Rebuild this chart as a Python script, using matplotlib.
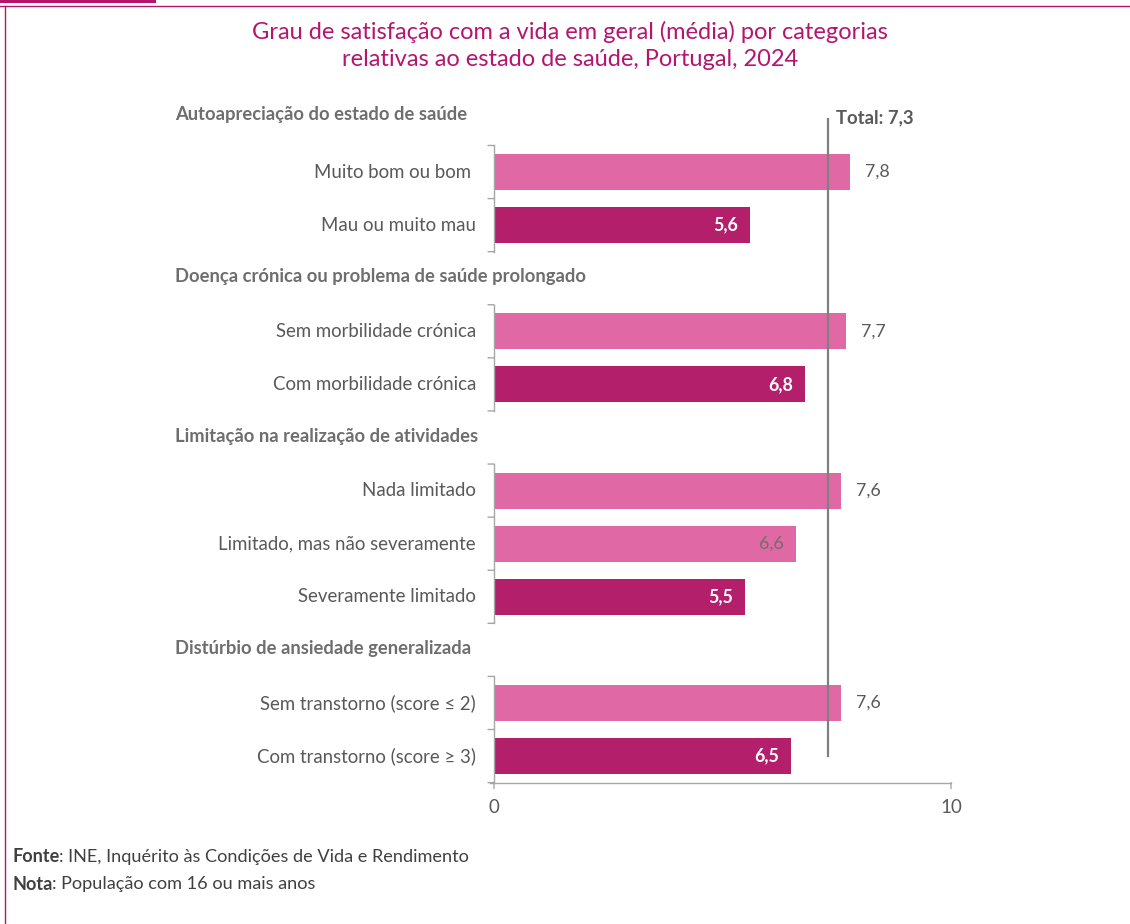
import matplotlib
matplotlib.use("Agg")
import matplotlib.pyplot as plt
from matplotlib.lines import Line2D
from matplotlib.patches import Rectangle

plt.rcParams['font.family'] = ['Lato', 'DejaVu Sans']

# data: rows top to bottom; None value = group header row
row_labels = ["Autoapreciação do estado de saúde",
              "Muito bom ou bom ", "Mau ou muito mau",
              "Doença crónica ou problema de saúde prolongado",
              "Sem morbilidade crónica", "Com morbilidade crónica",
              "Limitação na realização de atividades",
              "Nada limitado", "Limitado, mas não severamente", "Severamente limitado",
              "Distúrbio de ansiedade generalizada",
              "Sem transtorno (score ≤ 2)", "Com transtorno (score ≥ 3)"]
values = [None, 7.8, 5.6, None, 7.7, 6.8, None, 7.6, 6.6, 5.5, None, 7.6, 6.5]
dark = [False, False, True, False, False, True, False, False, False, True, False, False, True]
total = 7.3

LIGHT, DARK = "#E069A5", "#B31F6B"
MAGENTA = "#B5156F"
GRAY_TXT = "#595959"
AXIS_C = "#A6A6A6"
PT = 0.72  # points per pixel at dpi 100

W, H = 1130, 924
fig = plt.figure(figsize=(W / 100, H / 100), dpi=100)

# frame of the page
fig.add_artist(Line2D([0, 1], [1 - 6 / H] * 2, color=MAGENTA, lw=1.0))
fig.add_artist(Line2D([5 / W] * 2, [0, 1 - 6 / H], color=MAGENTA, lw=1.0))
fig.add_artist(Rectangle((0, 1 - 3 / H), 156 / W, 3 / H, color=MAGENTA, lw=0))

fig.text(570 / W, 1 - 32 / H, "Grau de satisfação com a vida em geral (média) por categorias",
         ha="center", va="center", fontsize=17, color=MAGENTA)
fig.text(570 / W, 1 - 60 / H, "relativas ao estado de saúde, Portugal, 2024",
         ha="center", va="center", fontsize=17, color=MAGENTA)

x0, x1 = 494, 951
ytop, ybot = 92.4, 782.6
ax = fig.add_axes([x0 / W, 1 - ybot / H, (x1 - x0) / W, (ybot - ytop) / H])
n = len(values)
ax.set_xlim(0, 10)
ax.set_ylim(n - 0.5, -0.5)
for s in ax.spines.values():
    s.set_visible(False)
ax.set_xticks([])
ax.set_yticks([])
ax.patch.set_alpha(0)

for i, (lab, v, d) in enumerate(zip(row_labels, values, dark)):
    if v is None:
        dy = 3 if i == 0 else 1
        ax.annotate(lab, xy=(0, i), xycoords=("axes fraction", "data"),
                    xytext=(-(x0 - 175) * PT, dy), textcoords="offset points",
                    ha="left", va="center", fontsize=13.2, fontweight="bold", color="#6E6E6E")
        continue
    ax.barh(i, v, height=0.68, color=DARK if d else LIGHT)
    ax.annotate(lab, xy=(0, i), xytext=(-18 * PT, 0), textcoords="offset points",
                ha="right", va="center", fontsize=13.4, color=GRAY_TXT)
    txt = f"{v:.1f}".replace(".", ",")
    if d:
        ax.annotate(txt, xy=(v, i), xytext=(-12 * PT, 0), textcoords="offset points",
                    ha="right", va="center", fontsize=12.8, fontweight="bold", color="white")
    elif v < total:
        ax.annotate(txt, xy=(v, i), xytext=(-12 * PT, 0), textcoords="offset points",
                    ha="right", va="center", fontsize=12.8, color="#6E6E6E")
    else:
        ax.annotate(txt, xy=(v, i), xytext=(15 * PT, 0), textcoords="offset points",
                    ha="left", va="center", fontsize=12.8, color=GRAY_TXT)

# total reference line
ax.plot([total, total], [0, n - 1], color="#7F7F7F", lw=1.6, clip_on=False)
ax.annotate(f"Total: {total:.1f}".replace(".", ","), xy=(total, 0),
            xytext=(8 * PT, 1), textcoords="offset points",
            ha="left", va="center", fontsize=13.3, fontweight="bold", color="#595959")

# segmented category axis (broken at group headers), Excel style ticks between rows
headers = [i for i, v in enumerate(values) if v is None] + [n]
for a, b in zip(headers[:-1], headers[1:]):
    lo, hi = a + 0.5, b - 0.5
    ax.plot([0, 0], [lo, hi], color=AXIS_C, lw=1.0, clip_on=False)
    k = lo
    while k <= hi + 1e-9:
        ax.annotate("", xy=(0, k), xytext=(-6 * PT, 0), textcoords="offset points",
                    arrowprops=dict(arrowstyle="-", color=AXIS_C, lw=1.0,
                                    shrinkA=0, shrinkB=0))
        k += 1

# value axis
ax.plot([-4 / 45.7, 10], [n - 0.5, n - 0.5], color=AXIS_C, lw=1.0, clip_on=False)
for t in (0, 10):
    ax.annotate("", xy=(t, n - 0.5), xytext=(0, -6 * PT), textcoords="offset points",
                arrowprops=dict(arrowstyle="-", color=AXIS_C, lw=1.0, shrinkA=0, shrinkB=0))
    ax.annotate(str(t), xy=(t, n - 0.5), xytext=(0, -25 * PT), textcoords="offset points",
                ha="center", va="center", fontsize=13.5, color=GRAY_TXT)

# footer: bold key followed by plain text
for y, key, rest in [(857, "Fonte", ": INE, Inquérito às Condições de Vida e Rendimento"),
                     (884, "Nota", ": População com 16 ou mais anos")]:
    k = fig.text(12 / W, 1 - y / H, key, fontsize=13.1, fontweight="bold",
                 color="#404040", va="center")
    ax.annotate(rest, xy=(1, 0.5), xycoords=k, ha="left", va="center",
                fontsize=13.1, color="#404040")

fig.savefig("out.png", dpi=100)
